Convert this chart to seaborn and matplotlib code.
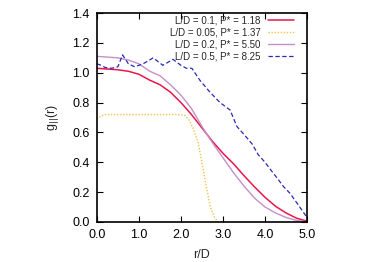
import matplotlib
matplotlib.use("Agg")
import matplotlib.pyplot as plt
import pandas as pd
import seaborn as sns

sns.set_theme(style="ticks")
plt.rcParams['font.family'] = ['Liberation Sans', 'DejaVu Sans']

# L/D = 0.1, P* = 1.18
r_a = [0.0, 0.25, 0.5, 0.75, 1.0, 1.26, 1.5, 1.75, 2.0, 2.25, 2.5, 2.75, 3.0,
       3.25, 3.5, 3.75, 4.0, 4.25, 4.5, 4.75, 5.0]
g_a = [1.03, 1.025, 1.02, 1.01, 0.99, 0.95, 0.92, 0.87, 0.80, 0.72, 0.63, 0.54, 0.46,
       0.39, 0.31, 0.235, 0.165, 0.105, 0.06, 0.025, 0.005]

# L/D = 0.05, P* = 1.37
r_b = [0.0, 0.1, 0.2, 0.5, 1.0, 1.5, 1.9, 2.09, 2.2, 2.3, 2.41, 2.5, 2.6, 2.7,
       2.8, 2.88]
g_b = [0.69, 0.71, 0.72, 0.72, 0.72, 0.72, 0.72, 0.715, 0.68, 0.62, 0.53, 0.40, 0.24, 0.10,
       0.03, 0.0]

# L/D = 0.2, P* = 5.50
r_c = [0.0, 0.25, 0.5, 0.75, 1.0, 1.26, 1.5, 1.75, 2.0, 2.25, 2.5, 2.75, 3.0,
       3.25, 3.5, 3.75, 4.0, 4.25, 4.5, 4.75, 5.0]
g_c = [1.11, 1.105, 1.10, 1.085, 1.06, 1.01, 0.98, 0.92, 0.85, 0.76, 0.64, 0.53, 0.43,
       0.33, 0.24, 0.16, 0.10, 0.06, 0.03, 0.01, 0.0]

# L/D = 0.5, P* = 8.25
r_d = [0.0, 0.1, 0.2, 0.35, 0.5, 0.61, 0.75, 0.9, 1.1, 1.34, 1.57, 1.81, 2.0, 2.13,
       2.26, 2.45, 2.69, 2.93, 3.17, 3.33, 3.52, 3.7, 3.84, 4.0, 4.16, 4.3,
       4.43, 4.6, 4.75, 4.9, 5.0]
g_d = [1.06, 1.05, 1.035, 1.03, 1.04, 1.12, 1.06, 1.04, 1.06, 1.10, 1.05, 1.09, 1.05, 1.03,
       1.03, 0.95, 0.87, 0.80, 0.75, 0.64, 0.58, 0.52, 0.45, 0.40, 0.34, 0.29,
       0.24, 0.19, 0.13, 0.07, 0.03]

labels = ["L/D = 0.1, P* = 1.18", "L/D = 0.05, P* = 1.37",
          "L/D = 0.2, P* = 5.50", "L/D = 0.5, P* = 8.25"]
colors = ["#e8174a", "#f2c44e", "#c58fcb", "#2a2ab3"]
styles = ["-", (0, (1, 1.2)), "-", (0, (3.5, 2))]
widths = [1.1, 1.0, 1.0, 0.9]

fig = plt.figure(figsize=(3.74, 2.62), dpi=100)
ax = fig.add_axes([0.259, 0.153, 0.562, 0.797])

for r, g, lab, c, ls, lw in zip([r_a, r_b, r_c, r_d], [g_a, g_b, g_c, g_d],
                                labels, colors, styles, widths):
    df = pd.DataFrame({'r': r, 'g': g})
    sns.lineplot(data=df, x='r', y='g', ax=ax, color=c, linestyle=ls,
                 linewidth=lw, label=lab)

ax.set_xlim(0, 5)
ax.set_ylim(0, 1.4)
ax.set_xticks([0, 1, 2, 3, 4, 5])
ax.set_xticklabels(["%.1f" % v for v in [0, 1, 2, 3, 4, 5]])
ax.set_yticks([0, 0.2, 0.4, 0.6, 0.8, 1.0, 1.2, 1.4])
ax.set_yticklabels(["%.1f" % v for v in [0, 0.2, 0.4, 0.6, 0.8, 1.0, 1.2, 1.4]])
ax.tick_params(direction='in', top=True, right=True, labelsize=9, length=4,
               width=0.8, pad=5, colors='black')
for s in ax.spines.values():
    s.set_linewidth(1.2)
    s.set_color('black')

ax.set_xlabel("r/D", fontsize=9, labelpad=6)
ax.set_ylabel(r"g$_{||}$(r)", fontsize=9, labelpad=8)

leg = ax.legend(loc='upper right', bbox_to_anchor=(0.94, 0.99), frameon=False,
                fontsize=7, markerfirst=False, handlelength=2.7,
                handletextpad=0.8, labelspacing=0.2, borderpad=0,
                borderaxespad=0)

fig.savefig("out.png", dpi=100)
